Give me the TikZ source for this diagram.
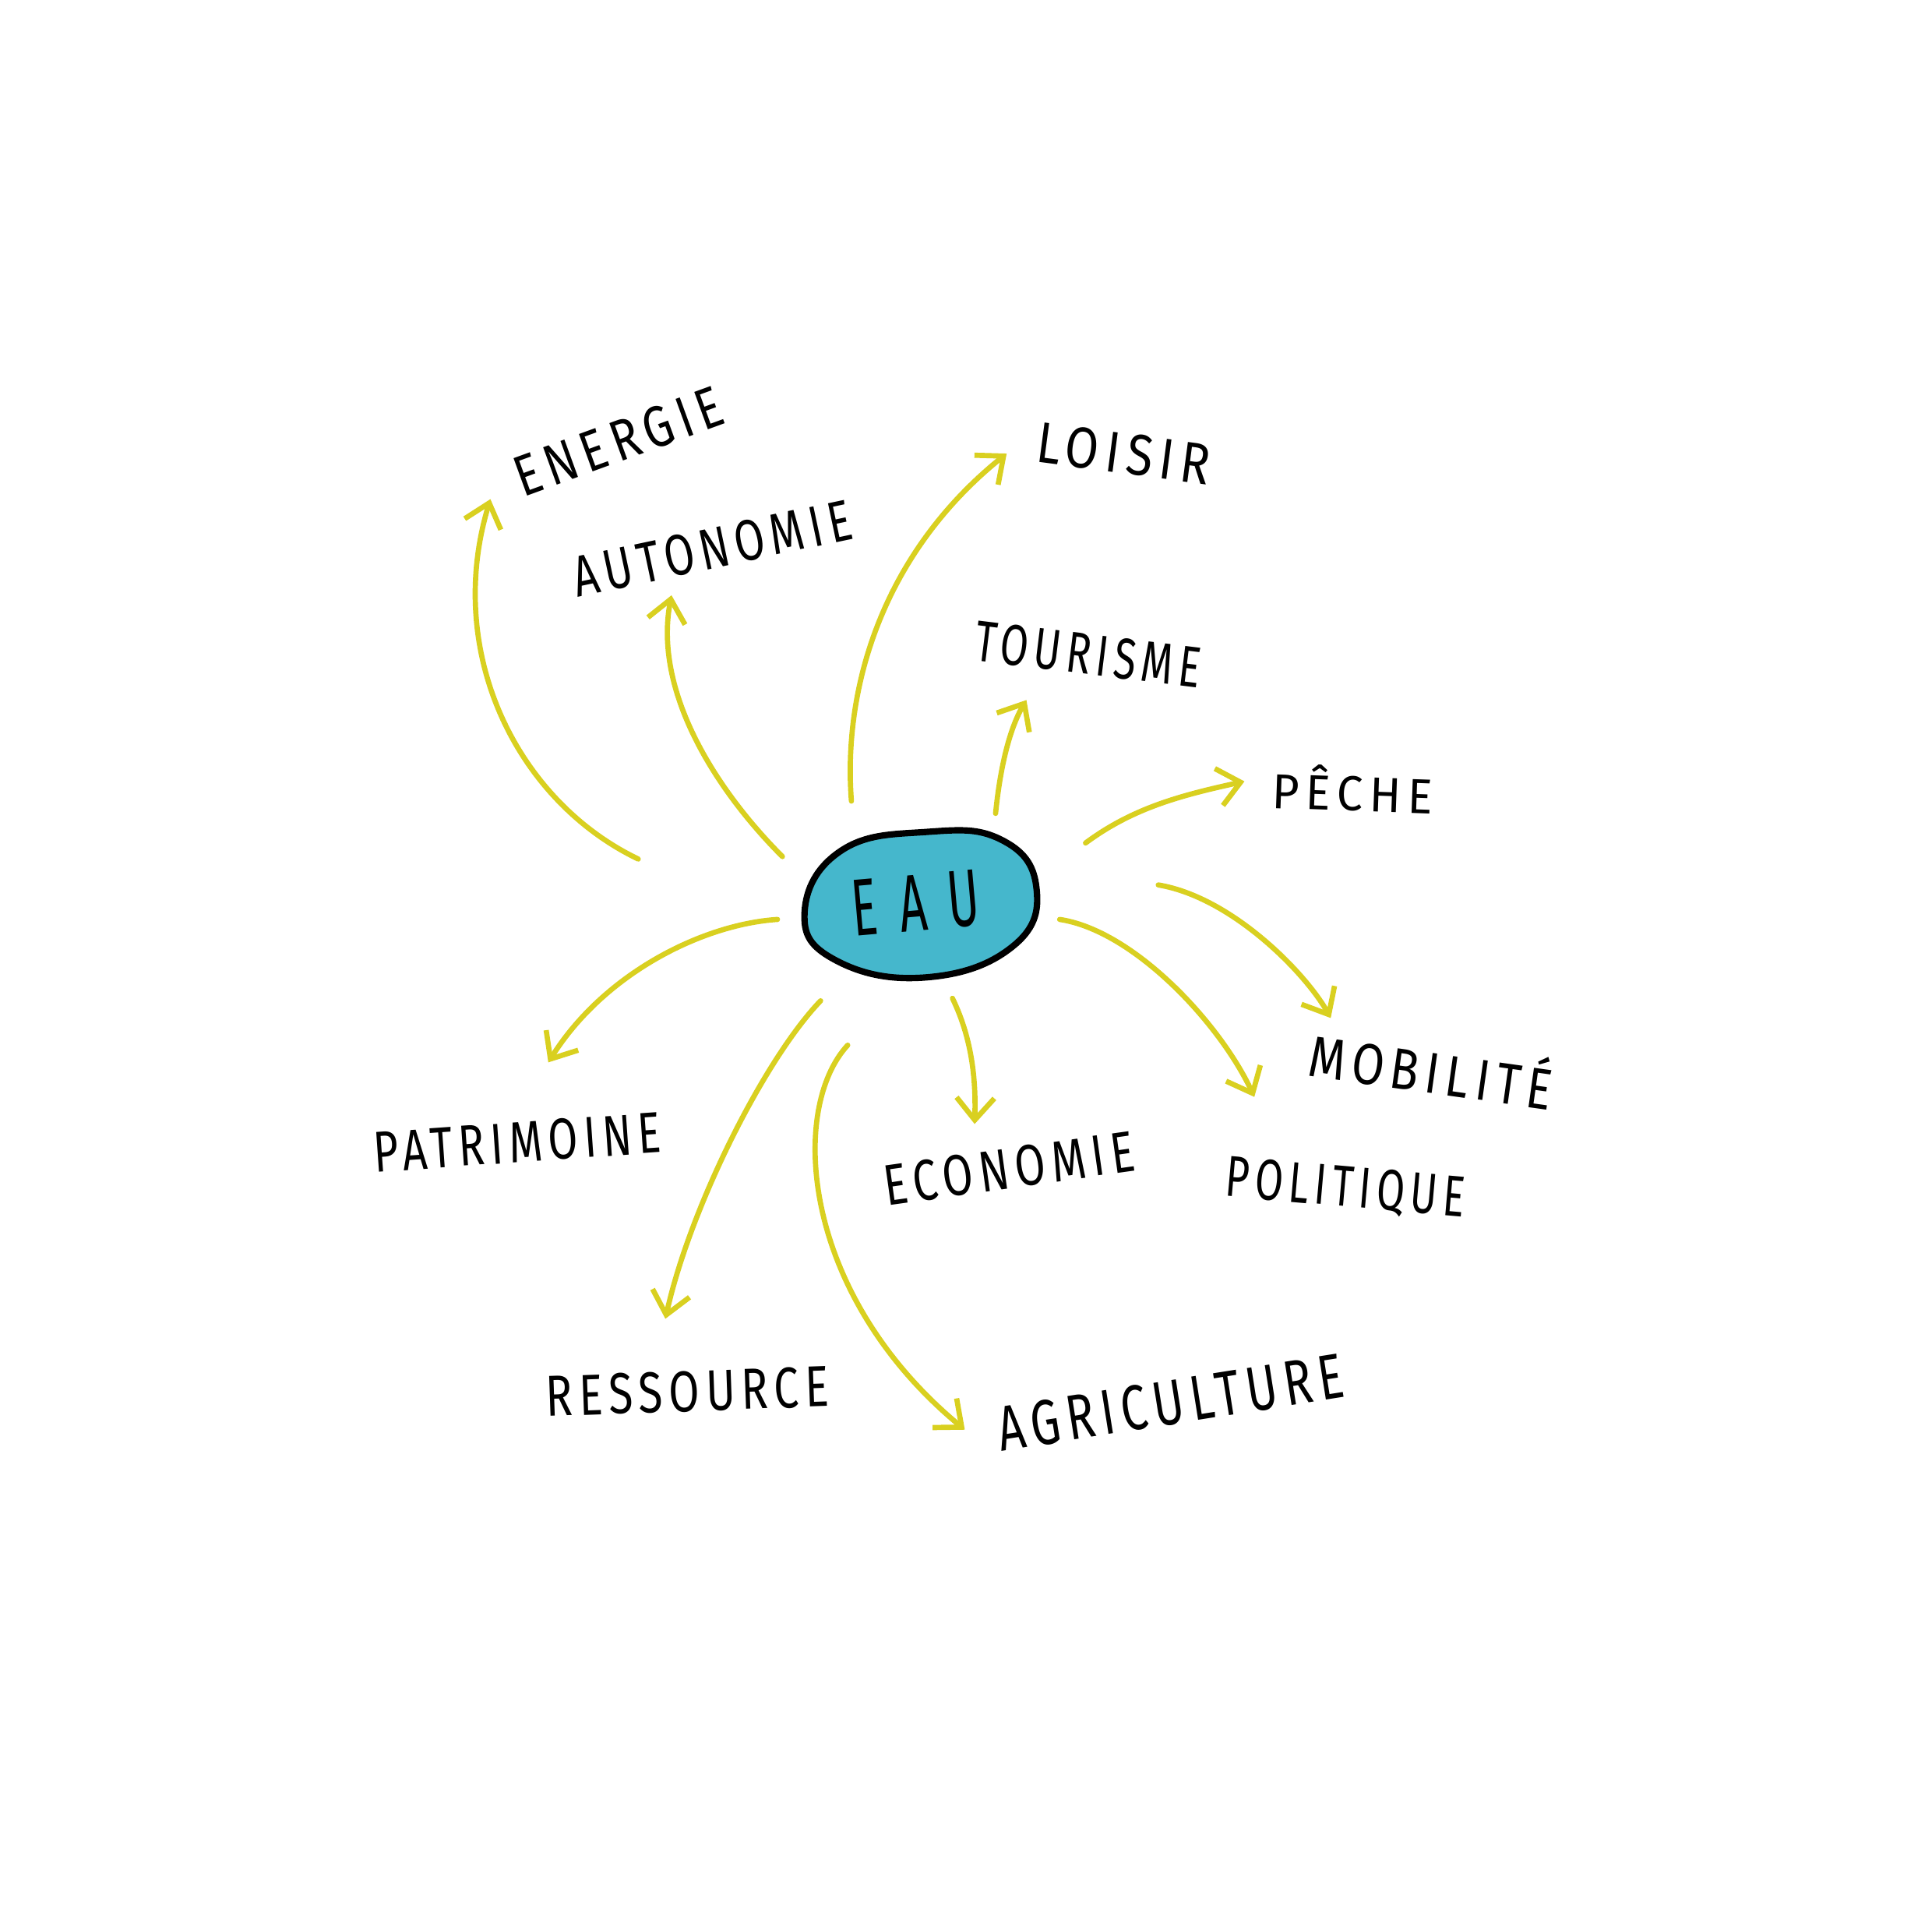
\documentclass[tikz,border=0pt]{standalone}
\usepackage{fontspec}
\setmainfont{Fira Sans}
\newfontfamily\handfont[LetterSpace=14]{Fira Sans}
\newfontfamily\eaufont[LetterSpace=45]{Fira Sans}
\usetikzlibrary{arrows.meta}
\definecolor{arrowyellow}{RGB}{217,208,32}
\definecolor{eaublue}{RGB}{69,183,204}
\newcommand{\handlbl}[2]{\resizebox{#1}{\height}{#2}}
\begin{document}
\begin{tikzpicture}[x=0.015cm,y=-0.015cm,
  link/.style={draw=arrowyellow, line width=1.8pt, line cap=round, line join=round,
    -{Straight Barb[length=2.7mm,width=4.6mm]}},
  lbl/.style={inner sep=0pt, text=black, font=\handfont\fontsize{20}{24}\selectfont}]
\useasboundingbox[fill=white] (0,0) rectangle (1568,1552);

% central blob
\draw[line width=2.2pt, fill=eaublue, draw=black]
  plot[smooth cycle, tension=0.75] coordinates
  {(653,740) (683,690) (752,675) (812,681) (841,719) (823,767) (752,793) (678,779)};
\node[lbl, font=\eaufont\fontsize{28}{32}\selectfont, rotate=5] (eau) at (743,733) {\handlbl{1.55cm}{EAU}};

% labels
\node[lbl, rotate=20] (energie) at (502,358) {\handlbl{2.65cm}{ENERGIE}};
\node[lbl, rotate=12] (autonomie) at (578,445) {\handlbl{3.45cm}{AUTONOMIE}};
\node[lbl, rotate=-7.5] (loisir) at (912,368) {\handlbl{2.12cm}{LOISIR}};
\node[lbl, rotate=-7] (tourisme) at (883,531) {\handlbl{2.76cm}{TOURISME}};
\node[lbl, font=\handfont\fontsize{17}{20}\selectfont, rotate=-2] (peche) at (1098,640) {\handlbl{1.95cm}{PÊCHE}};
\node[lbl, rotate=-8] (mobilite) at (1162,866) {\handlbl{2.98cm}{MOBILITÉ}};
\node[lbl, rotate=-5] (politique) at (1092,965) {\handlbl{2.92cm}{POLITIQUE}};
\node[lbl, rotate=8] (economie) at (819,948) {\handlbl{3.07cm}{ECONOMIE}};
\node[lbl, rotate=4] (patrimoine) at (420,927) {\handlbl{3.5cm}{PATRIMOINE}};
\node[lbl, rotate=2] (ressource) at (558,1129) {\handlbl{3.45cm}{RESSOURCE}};
\node[lbl, font=\handfont\fontsize{22}{26}\selectfont, rotate=9] (agriculture) at (950,1138) {\handlbl{4.25cm}{AGRICULTURE}};

% connector ends
\coordinate (s-energie) at (518,697);   \coordinate (e-energie) at (398,405);
\coordinate (s-autonomie) at (635,695); \coordinate (e-autonomie) at (545,483);
\coordinate (s-loisir) at (691,650);    \coordinate (e-loisir) at (817,368);
\coordinate (s-tourisme) at (808,660);  \coordinate (e-tourisme) at (833,568);
\coordinate (s-peche) at (881,684);     \coordinate (e-peche) at (1010,634);
\coordinate (s-mobilite) at (940,718);  \coordinate (e-mobilite) at (1080,826);
\coordinate (s-politique) at (860,746); \coordinate (e-politique) at (1018,890);
\coordinate (s-economie) at (773,810);  \coordinate (e-economie) at (791,912);
\coordinate (s-agri) at (688,848);      \coordinate (e-agri) at (783,1160);
\coordinate (s-ressource) at (666,812); \coordinate (e-ressource) at (540,1070);
\coordinate (s-patrimoine) at (631,746);\coordinate (e-patrimoine) at (445,862);

% connectors
\draw[link] (s-energie) .. controls (420,650) and (360,530) .. (e-energie);
\draw[link] (s-autonomie) .. controls (580,640) and (530,560) .. (e-autonomie);
\draw[link] (s-loisir) .. controls (684,560) and (715,450) .. (e-loisir);
\draw[link] (s-tourisme) .. controls (812,620) and (820,590) .. (e-tourisme);
\draw[link] (s-peche) .. controls (920,655) and (960,645) .. (e-peche);
\draw[link] (s-mobilite) .. controls (1000,728) and (1060,790) .. (e-mobilite);
\draw[link] (s-politique) .. controls (920,755) and (990,830) .. (e-politique);
\draw[link] (s-economie) .. controls (790,845) and (792,880) .. (e-economie);
\draw[link] (s-agri) .. controls (640,900) and (650,1050) .. (e-agri);
\draw[link] (s-ressource) .. controls (620,860) and (560,980) .. (e-ressource);
\draw[link] (s-patrimoine) .. controls (570,750) and (490,790) .. (e-patrimoine);
\end{tikzpicture}
\end{document}
